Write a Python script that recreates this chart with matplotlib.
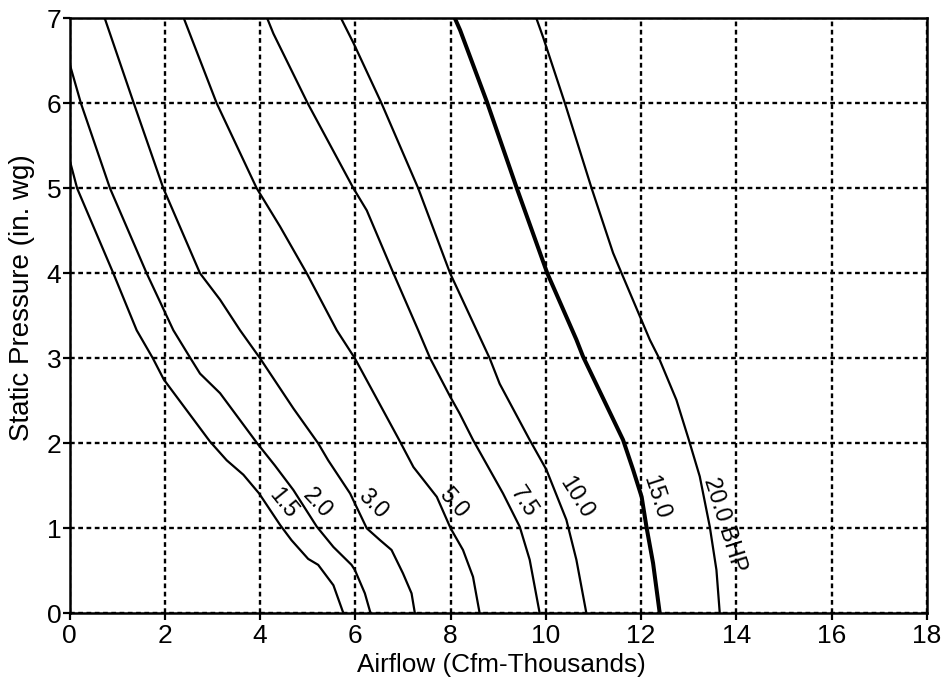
import matplotlib
matplotlib.use("Agg")
import matplotlib.pyplot as plt

plt.rcParams['font.family'] = ['Liberation Sans', 'DejaVu Sans']

# BHP curves: airflow (thousand cfm) vs static pressure (in. wg)
bhp_1_5_x = [0, 0.16, 0.92, 1.41, 1.75, 1.98, 2.95, 3.30, 3.65, 3.98, 4.42, 4.66, 5.01, 5.22, 5.54, 5.75]
bhp_1_5_y = [5.34, 5.0, 4.0, 3.33, 3.0, 2.75, 2.02, 1.80, 1.63, 1.41, 1.04, 0.86, 0.64, 0.57, 0.33, 0.0]

bhp_2_0_x = [0, 0.24, 0.85, 1.62, 2.18, 2.54, 2.74, 3.16, 3.94, 4.31, 4.70, 5.19, 5.54, 5.92, 5.99, 6.20, 6.32]
bhp_2_0_y = [6.47, 6.0, 5.0, 4.0, 3.33, 3.0, 2.82, 2.59, 2.0, 1.74, 1.45, 1.02, 0.78, 0.57, 0.51, 0.235, 0.0]

bhp_3_0_x = [0.74, 1.35, 1.97, 2.74, 3.16, 3.58, 4.0, 4.70, 5.22, 5.43, 5.89, 6.24, 6.52, 6.76, 7.0, 7.18, 7.25]
bhp_3_0_y = [7.0, 6.0, 5.0, 4.0, 3.69, 3.33, 3.0, 2.41, 2.0, 1.80, 1.41, 1.0, 0.86, 0.745, 0.47, 0.235, 0.0]

bhp_5_0_x = [2.40, 3.09, 3.93, 4.42, 4.98, 5.61, 5.99, 6.90, 7.22, 7.71, 8.0, 8.26, 8.47, 8.61]
bhp_5_0_y = [7.0, 6.0, 5.0, 4.55, 4.0, 3.33, 3.0, 2.06, 1.72, 1.37, 1.0, 0.745, 0.43, 0.0]

bhp_7_5_x = [4.15, 4.28, 5.0, 5.96, 6.24, 6.80, 7.32, 7.57, 7.99, 8.19, 8.47, 9.10, 9.45, 9.66, 9.87]
bhp_7_5_y = [7.0, 6.82, 6.0, 5.0, 4.74, 4.0, 3.33, 3.0, 2.55, 2.35, 2.04, 1.41, 1.02, 0.63, 0.0]

bhp_10_0_x = [5.70, 5.96, 6.55, 7.32, 7.99, 8.82, 9.03, 9.66, 10.01, 10.43, 10.64, 10.85]
bhp_10_0_y = [7.0, 6.71, 6.0, 5.0, 4.0, 3.0, 2.70, 2.04, 1.69, 1.10, 0.63, 0.0]

bhp_15_0_x = [8.09, 8.20, 8.76, 9.39, 10.03, 10.64, 10.78, 11.62, 11.83, 12.01, 12.11, 12.25, 12.39]
bhp_15_0_y = [7.0, 6.86, 6.02, 5.0, 4.0, 3.22, 3.02, 2.04, 1.69, 1.37, 1.02, 0.59, 0.0]

bhp_20_0_x = [9.80, 9.94, 10.40, 10.96, 11.41, 11.59, 12.18, 12.36, 12.74, 12.99, 13.23, 13.44, 13.58, 13.65]
bhp_20_0_y = [7.0, 6.78, 6.0, 5.0, 4.24, 4.0, 3.22, 3.02, 2.51, 2.06, 1.61, 1.02, 0.51, 0.0]

curve_labels = ["1.5", "2.0", "3.0", "5.0", "7.5", "10.0", "15.0", "20.0 BHP"]
label_x = [4.49, 5.21, 6.37, 8.06, 9.53, 10.65, 12.31, 13.75]
label_y = [1.29, 1.29, 1.29, 1.30, 1.31, 1.36, 1.37, 1.04]
label_rot = [-51, -47, -45, -49, -57, -58, -72, -72.5]

x_ticks = [0, 2, 4, 6, 8, 10, 12, 14, 16, 18]
y_ticks = [0, 1, 2, 3, 4, 5, 6, 7]

curves = [
    (bhp_1_5_x, bhp_1_5_y, 1.6),
    (bhp_2_0_x, bhp_2_0_y, 1.6),
    (bhp_3_0_x, bhp_3_0_y, 1.6),
    (bhp_5_0_x, bhp_5_0_y, 1.6),
    (bhp_7_5_x, bhp_7_5_y, 1.6),
    (bhp_10_0_x, bhp_10_0_y, 1.6),
    (bhp_15_0_x, bhp_15_0_y, 2.9),
    (bhp_20_0_x, bhp_20_0_y, 1.6),
]

fig = plt.figure(figsize=(9.48, 6.81), dpi=100)
ax = fig.add_axes([69.5 / 948, 1 - 613.3 / 681, (927 - 69.5) / 948, (613.3 - 18.3) / 681])

for xs, ys, lw in curves:
    ax.plot(xs, ys, color='black', lw=lw, solid_joinstyle='round', zorder=3)

for txt, lx, ly, rot in zip(curve_labels, label_x, label_y, label_rot):
    ax.text(lx, ly, txt, rotation=rot, rotation_mode='anchor', ha='center', va='center',
            fontsize=16.5, color='black', zorder=4)

ax.set_xlim(0, 18)
ax.set_ylim(0, 7)
ax.set_xticks(x_ticks)
ax.set_yticks(y_ticks)
ax.tick_params(axis='both', direction='out', length=5, width=1.6, labelsize=19, color='black')
ax.tick_params(axis='y', pad=1)
ax.tick_params(axis='x', pad=3)

ax.grid(True, color='black', linestyle=(0, (2, 1.5)), linewidth=1.7, zorder=1)
ax.set_axisbelow(True)

for s in ax.spines.values():
    s.set_linewidth(1.8)
    s.set_color('black')

ax.set_xlabel("Airflow (Cfm-Thousands)", fontsize=18.8)
ax.xaxis.set_label_coords(0.5038, -0.0667)
ax.set_ylabel("Static Pressure (in. wg)", fontsize=20)
ax.yaxis.set_label_coords(-0.040, 0.531)

fig.savefig("out.png", dpi=100)
